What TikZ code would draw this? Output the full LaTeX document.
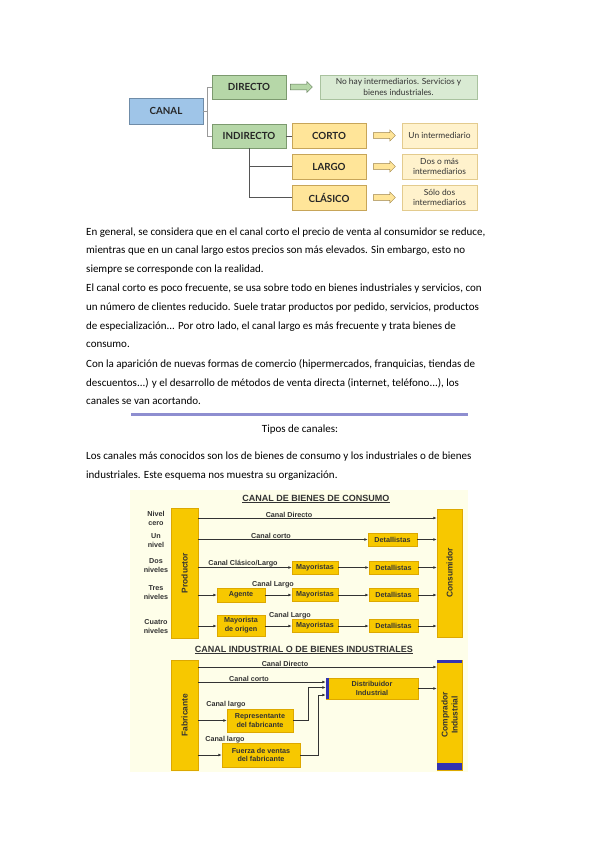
\documentclass[tikz,border=0pt]{standalone}
\usepackage{fontspec}
\setmainfont{Carlito}
\newfontfamily\arialf{Liberation Sans}
\newfontfamily\topf{Lato}
\usetikzlibrary{shapes.arrows,arrows.meta}
\definecolor{canalfill}{HTML}{9FC5E8}
\definecolor{canaledge}{HTML}{6F8CA8}
\definecolor{gfill}{HTML}{B6D7A8}
\definecolor{gedge}{HTML}{7C9A6F}
\definecolor{glight}{HTML}{D9EAD3}
\definecolor{glightedge}{HTML}{A9C29F}
\definecolor{yfill}{HTML}{FFE599}
\definecolor{yedge}{HTML}{C7A559}
\definecolor{ylight}{HTML}{FFF2CC}
\definecolor{ylightedge}{HTML}{E3CB8E}
\definecolor{conn}{HTML}{555555}
\definecolor{rulec}{HTML}{8E8ED0}
\definecolor{cream}{HTML}{FEFEE9}
\definecolor{gold}{HTML}{F7C800}
\definecolor{goldedge}{HTML}{DDA800}
\definecolor{bandblue}{HTML}{3333B0}
\definecolor{ink}{HTML}{333333}
\tikzset{
  topbox/.style={draw, line width=0.6pt, inner sep=0pt, text=black!85,
    font=\topf\bfseries\fontsize{9.8}{11}\selectfont},
  canalbox/.style={topbox, fill=canalfill, draw=canaledge, minimum width=74pt, minimum height=26pt},
  gbox/.style={topbox, fill=gfill, draw=gedge, minimum width=74pt, minimum height=24pt},
  ybox/.style={topbox, fill=yfill, draw=yedge, minimum width=74pt, minimum height=25pt},
  desc/.style={draw, line width=0.5pt, inner sep=0pt, align=center, text=black!80,
    font=\topf\fontsize{8.4}{10.6}\selectfont},
  gdesc/.style={desc, fill=glight, draw=glightedge, minimum width=157pt, minimum height=24pt},
  ydesc/.style={desc, fill=ylight, draw=ylightedge, minimum width=75pt, minimum height=25pt},
  barrow/.style={single arrow, draw, line width=0.5pt, inner sep=2.4pt, minimum height=22pt,
    minimum width=11pt, single arrow head extend=2.6pt},
  tconn/.style={draw=conn, line width=0.8pt},
  para/.style={anchor=north west, inner sep=0pt, align=left, font=\fontsize{11}{18.6}\selectfont},
  gbx/.style={draw=goldedge, fill=gold, line width=0.5pt, inner sep=0pt, align=center, text=ink,
    font=\arialf\bfseries\fontsize{7.2}{8.8}\selectfont},
  tallbox/.style={draw=goldedge, fill=gold, line width=0.5pt, inner sep=0pt, minimum width=27pt},
  vlabel/.style={rotate=90, text=ink, font=\arialf\bfseries\fontsize{8.4}{10}\selectfont, align=center, inner sep=0pt},
  lvl/.style={text=ink, align=center, inner sep=0pt, font=\arialf\bfseries\fontsize{7.2}{9}\selectfont},
  clab/.style={text=ink, anchor=south, inner sep=0.6pt, font=\arialf\bfseries\fontsize{7.2}{8}\selectfont},
  ttl/.style={text=ink, inner sep=0pt, font=\arialf\bfseries\fontsize{9}{10}\selectfont},
  flow/.style={draw=ink, line width=0.9pt, -{Latex[length=3.4pt,width=2.8pt]}}
}
\begin{document}
\begin{tikzpicture}[x=1pt,y=-1pt]
\fill[white] (0,0) rectangle (599,848);
\useasboundingbox (0,0) rectangle (599,848);

% ---------- top concept diagram ----------
\node[canalbox] (canal) at (166,111) {CANAL};
\node[gbox] (directo) at (249,87) {DIRECTO};
\node[gbox] (indirecto) at (249,136) {INDIRECTO};
\node[gdesc] (ddesc) at (398.5,87) {No hay intermediarios. Servicios y\\bienes industriales.};
\node[ybox] (corto) at (329,135.5) {CORTO};
\node[ybox] (largo) at (329,166.5) {LARGO};
\node[ybox] (clasico) at (329,197.5) {CLÁSICO};
\node[ydesc] (dcorto) at (439.5,135.5) {Un intermediario};
\node[ydesc] (dlargo) at (439.5,166.5) {Dos o más\\intermediarios};
\node[ydesc] (dclasico) at (439.5,197.5) {Sólo dos\\intermediarios};
\node[barrow, fill=gfill, draw=gedge!80!black] (a0) at (300,87) {};
\node[barrow, fill=yfill, draw=yedge!80!black] (a1) at (383,135.5) {};
\node[barrow, fill=yfill, draw=yedge!80!black] (a2) at (383,166.5) {};
\node[barrow, fill=yfill, draw=yedge!80!black] (a3) at (383,197.5) {};
\coordinate (cj) at (207,111);
\draw[tconn, draw=black!40] (canal.east) -- (cj) |- (directo.west);
\draw[tconn, draw=black!40] (cj) |- (indirecto.west);
\draw[tconn] (indirecto.east) -- (corto.west |- indirecto.east);
\coordinate (ij) at (249,148);
\draw[tconn] (ij) |- (largo.west);
\draw[tconn] (ij) |- (clasico.west);

% ---------- paragraphs ----------
\node[para] (p1) at (86,227.5) {En general, se considera que en el canal corto el precio de venta al consumidor se reduce,\\mientras que en un canal largo estos precios son más elevados. Sin embargo, esto no\\siempre se corresponde con la realidad.};
\node[para] (p2) at (86,284) {El canal corto es poco frecuente, se usa sobre todo en bienes industriales y servicios, con\\un número de clientes reducido. Suele tratar productos por pedido, servicios, productos\\de especialización... Por otro lado, el canal largo es más frecuente y trata bienes de\\consumo.};
\node[para] (p3) at (86,359.5) {Con la aparición de nuevas formas de comercio (hipermercados, franquicias, tiendas de\\descuentos...) y el desarrollo de métodos de venta directa (internet, teléfono...), los\\canales se van acortando.};
\fill[rulec] (131,413) rectangle (468,416);
\node[inner sep=0pt, font=\fontsize{11}{13}\selectfont] (tipos) at (300,429.5) {Tipos de canales:};
\node[para] (p4) at (86,452) {Los canales más conocidos son los de bienes de consumo y los industriales o de bienes\\industriales. Este esquema nos muestra su organización.};

% ---------- lower scheme ----------
\fill[cream] (130,490) rectangle (468,772);
\node[ttl] (t1) at (316,499) {\underline{CANAL DE BIENES DE CONSUMO}};

\node[tallbox, minimum height=130pt] (prod) at (184.5,573) {};
\node[vlabel] (prodl) at (prod.center) {Productor};
\node[tallbox, minimum height=128pt, minimum width=25pt] (cons) at (449.5,573) {};
\node[vlabel] (consl) at (cons.center) {Consumidor};

\node[lvl] (l0) at (156,518) {Nivel\\cero};
\node[lvl] (l1) at (156,541) {Un\\nivel};
\node[lvl] (l2) at (156,566) {Dos\\niveles};
\node[lvl] (l3) at (156,593) {Tres\\niveles};
\node[lvl] (l4) at (156,627) {Cuatro\\niveles};

\coordinate (r0) at (0,518);
\coordinate (r1) at (0,539.5);
\coordinate (r2) at (0,567.5);
\coordinate (r3) at (0,595);
\coordinate (r4) at (0,626);

\node[gbx, minimum width=49pt, minimum height=13pt] (det1) at (392.5,539.5) {Detallistas};
\node[gbx, minimum width=46pt, minimum height=13pt] (may2) at (315,567.5) {Mayoristas};
\node[gbx, minimum width=49pt, minimum height=13pt] (det2) at (393.5,567.5) {Detallistas};
\node[gbx, minimum width=48pt, minimum height=14pt] (agente) at (241,595) {Agente};
\node[gbx, minimum width=46pt, minimum height=13pt] (may3) at (315,595) {Mayoristas};
\node[gbx, minimum width=49pt, minimum height=13pt] (det3) at (393.5,595) {Detallistas};
\node[gbx, minimum width=48pt, minimum height=21pt] (morig) at (241,625.5) {Mayorista\\de origen};
\node[gbx, minimum width=46pt, minimum height=13pt] (may4) at (315,626) {Mayoristas};
\node[gbx, minimum width=49pt, minimum height=13pt] (det4) at (393.5,626) {Detallistas};

\draw[flow] (prod.east |- r0) -- (cons.west |- r0);
\draw[flow] (prod.east |- r1) -- (det1.west);
\draw[flow] (det1.east) -- (cons.west |- det1.east);
\draw[flow] (prod.east |- r2) -- (may2.west);
\draw[flow] (may2.east) -- (det2.west);
\draw[flow] (det2.east) -- (cons.west |- det2.east);
\draw[flow] (prod.east |- r3) -- (agente.west);
\draw[flow] (agente.east) -- (may3.west);
\draw[flow] (may3.east) -- (det3.west);
\draw[flow] (det3.east) -- (cons.west |- det3.east);
\draw[flow] (prod.east |- r4) -- (morig.west |- r4);
\draw[flow] (morig.east |- r4) -- (may4.west);
\draw[flow] (may4.east) -- (det4.west);
\draw[flow] (det4.east) -- (cons.west |- det4.east);

\node[clab] (c0) at (289,518) {Canal Directo};
\node[clab] (c1) at (271,539.5) {Canal corto};
\node[clab] (c2) at (243,567.5) {Canal Clásico/Largo};
\node[clab] (c3) at (273,589) {Canal Largo};
\node[clab] (c4) at (290,620) {Canal Largo};

% industrial
\node[ttl] (t2) at (304,650) {\underline{CANAL INDUSTRIAL O DE BIENES INDUSTRIALES}};
\node[tallbox, minimum height=110pt] (fab) at (184.5,715) {};
\node[vlabel] (fabl) at (fab.center) {Fabricante};
\node[tallbox, minimum height=110pt, minimum width=25pt] (comp) at (449.5,715) {};
\fill[bandblue] (comp.north west) rectangle ([yshift=-3.5pt]comp.north east);
\fill[bandblue] ([yshift=7pt]comp.south west) rectangle (comp.south east);
\node[vlabel] (compl) at (comp.center) {Comprador\\Industrial};

\node[gbx, minimum width=92pt, minimum height=21pt] (dist) at (372,688.5) {Distribuidor\\Industrial};
\fill[bandblue] (dist.north west) rectangle ([xshift=3pt]dist.south west);
\node[gbx, minimum width=66pt, minimum height=23pt] (rep) at (260,720.5) {Representante\\del fabricante};
\node[gbx, minimum width=78pt, minimum height=24pt] (fuerza) at (261,755) {Fuerza de ventas\\del fabricante};

\coordinate (s0) at (0,667);
\coordinate (s1) at (0,682);
\coordinate (j1) at (308,687.5);
\coordinate (j2) at (318,695);

\draw[flow] (fab.east |- s0) -- (comp.west |- s0);
\draw[flow] (fab.east |- s1) -- (dist.west |- s1);
\draw[flow] (fab.east |- rep.west) -- (rep.west);
\draw[flow] (fab.east |- fuerza.west) -- (fuerza.west);
\draw[flow] (rep.east) -| (j1) -- (dist.west |- j1);
\draw[flow] (fuerza.east) -| (j2) -- (dist.west |- j2);
\draw[flow] (dist.east) -- (comp.west |- dist.east);

\node[clab] (c5) at (285,667) {Canal Directo};
\node[clab] (c6) at (249,682) {Canal corto};
\node[clab] (c7) at (226,709) {Canal largo};
\node[clab] (c8) at (225,743.5) {Canal largo};
\end{tikzpicture}
\end{document}
